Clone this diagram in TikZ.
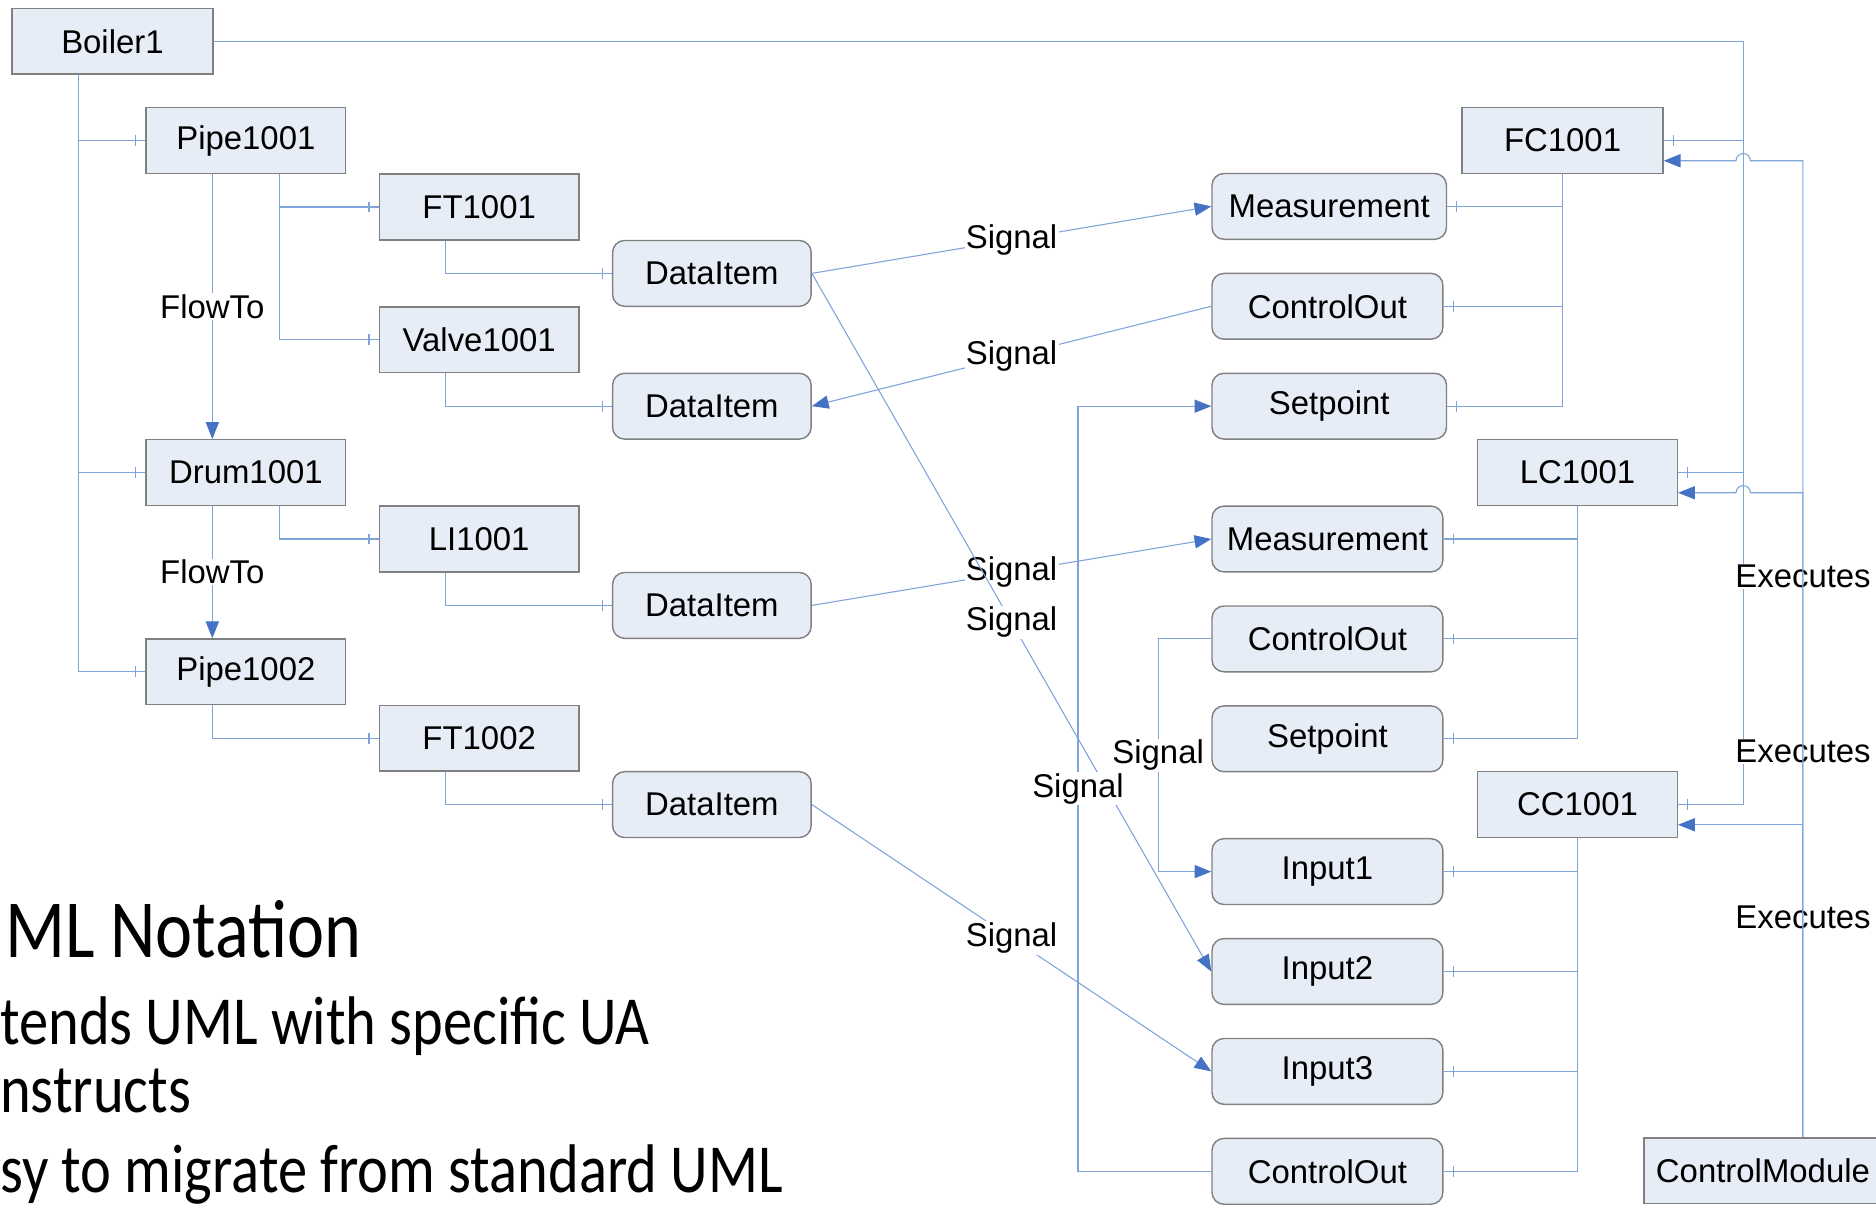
\documentclass[tikz,border=0pt]{standalone}
\usepackage{fontspec}
\setmainfont{Liberation Sans}
\newfontfamily\slidefont[FakeStretch=0.85]{Carlito}
\usetikzlibrary{arrows.meta,calc,decorations.markings}
\definecolor{boxfill}{RGB}{231,237,247}
\definecolor{boxline}{RGB}{128,128,128}
\definecolor{wireblue}{RGB}{126,164,218}
\definecolor{tipblue}{RGB}{68,114,196}
\newcommand{\lblsize}{\fontsize{27.5}{31}\selectfont}
\begin{document}
\begin{tikzpicture}[x=1pt,y=-1pt,
  obj/.style = {rectangle,draw=boxline,fill=boxfill,line width=1.2pt,minimum width=167pt,minimum height=55pt,inner sep=0pt,font=\lblsize},
  item/.style = {obj,rounded corners=10pt,minimum width=193pt},
  lbl/.style = {fill=white,inner sep=1pt,font=\lblsize},
  link/.style = {draw=wireblue,line width=0.9pt},
  has/.style = {link,postaction={decorate},decoration={markings,mark=at position 1 with {\draw[wireblue,line width=0.9pt] (-8pt,-4.5pt) -- (-8pt,4.5pt);}}},
  rel/.style = {link,-{Triangle[length=14pt,width=11pt,color=tipblue]}},
  slide/.style = {anchor=base west,inner sep=0pt}]
\useasboundingbox (0,0) rectangle (1568,1007);
\node[obj,minimum width=168pt] (boiler) at (94,34.5) {Boiler1};
\foreach \n/\lab/\x/\y in {pipeA/Pipe1001/205.5/117.5, ftA/FT1001/400.5/173, valve/Valve1001/400.5/284, drum/Drum1001/205.5/395, li/LI1001/400.5/450.5, pipeB/Pipe1002/205.5/561.5, ftB/FT1002/400.5/617}
  \node[obj] (\n) at (\x,\y) {\lab};
\foreach \n/\y in {diA/228.5, diB/339.5, diC/506, diD/672.5}
  \node[item,minimum width=166pt] (\n) at (595,\y) {DataItem};
\foreach \n/\lab/\y in {meA/Measurement/172.5, spA/Setpoint/339.5}
  \node[item,minimum width=196pt] (\n) at (1111,\y) {\lab};
\foreach \n/\lab/\y in {coA/ControlOut/256, meB/Measurement/450.5, coB/ControlOut/534, spB/Setpoint/617.5, inA/Input1/728.5, inB/Input2/812, inC/Input3/895.5, coC/ControlOut/979}
  \node[item] (\n) at (1109.5,\y) {\lab};
\node[obj,minimum width=168pt] (fc) at (1306,117.5) {FC1001};
\node[obj] (lc) at (1318.5,395) {LC1001};
\node[obj] (cc) at (1318.5,672.5) {CC1001};
\node[obj,minimum width=199pt] (cm) at (1473.5,978.5) {ControlModule};

\node[slide,font=\slidefont\fontsize{69}{69}\selectfont] (title) at (4,800) {ML Notation};
\node[slide,font=\slidefont\fontsize{57.5}{57}\selectfont] (lineA) at (0,873) {tends UML with specific UA};
\node[slide,font=\slidefont\fontsize{57.5}{57}\selectfont] (lineB) at (0,930) {nstructs};
\node[slide,font=\slidefont\fontsize{57.5}{57}\selectfont] (lineC) at (0,997) {sy to migrate from standard UML};

\coordinate (bus) at (1457,34.5);
\coordinate (sbA) at (901,0);
\coordinate (sbB) at (968,0);
\coordinate (cmtop) at ($(cm.north west)!2/3!(cm.north east)$);
\foreach \n in {fc,lc,cc} \coordinate (in\n) at ($(\n.north east)!.8!(\n.south east)$);

\foreach \t in {pipeA,drum,pipeB} \draw[has] ($(boiler.south west)!1/3!(boiler.south east)$) |- (\t.west);
\draw[rel] ($(pipeA.south west)!1/3!(pipeA.south east)$) -- node[lbl]{FlowTo} ($(drum.north west)!1/3!(drum.north east)$);
\draw[rel] ($(drum.south west)!1/3!(drum.south east)$) -- node[lbl]{FlowTo} ($(pipeB.north west)!1/3!(pipeB.north east)$);
\foreach \s/\t in {pipeA/ftA, pipeA/valve, drum/li} \draw[has] ($(\s.south west)!2/3!(\s.south east)$) |- (\t.west);
\draw[has] ($(pipeB.south west)!1/3!(pipeB.south east)$) |- (ftB.west);
\foreach \s/\t in {ftA/diA, valve/diB, li/diC, ftB/diD} \draw[has] ($(\s.south west)!1/3!(\s.south east)$) |- (\t.west);

\foreach \t in {meA,coA,spA} \draw[has] (fc.south) |- (\t.east);
\foreach \t in {meB,coB,spB} \draw[has] (lc.south) |- (\t.east);
\foreach \t in {inA,inB,inC,coC} \draw[has] (cc.south) |- (\t.east);
\foreach \t in {fc,lc,cc} \draw[has] (boiler.east) -| (bus) |- (\t.east);

\draw[rel] (diA.east) -- node[lbl]{Signal} (meA.west);
\draw[rel] (coA.west) -- node[lbl]{Signal} (diB.east);
\draw[rel] (diC.east) -- node[lbl]{Signal} (meB.west);
\draw[rel] (diA.east) -- node[lbl]{Signal} (inB.west);
\draw[rel] (diD.east) -- node[lbl]{Signal} (inC.west);
\draw[rel] (coC.west) -- (coC.west -| sbA) -- node[lbl]{Signal} (spA.west -| sbA) -- (spA.west);
\draw[rel] (coB.west) -- (coB.west -| sbB) -- node[lbl]{Signal} (inA.west -| sbB) -- (inA.west);

\node[lbl] (exA) at (1507,482) {Executes};
\node[lbl] (exB) at (1507,628) {Executes};
\node[lbl] (exC) at (1507,767) {Executes};
\draw[rel] (cmtop) |- ([xshift=6pt]bus |- infc) arc[start angle=0,end angle=180,radius=6pt] -- (infc);
\draw[rel] (cmtop) |- ([xshift=6pt]bus |- inlc) arc[start angle=0,end angle=180,radius=6pt] -- (inlc);
\draw[rel] (cmtop) |- (incc);
\end{tikzpicture}
\end{document}
